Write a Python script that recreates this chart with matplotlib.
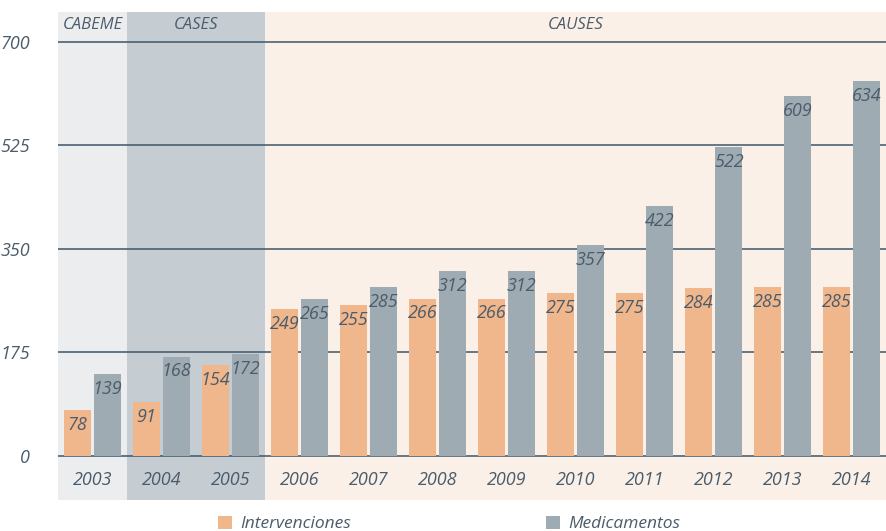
import matplotlib
matplotlib.use("Agg")
import matplotlib.pyplot as plt
import numpy as np

years = ["2003", "2004", "2005", "2006", "2007", "2008", "2009", "2010", "2011", "2012", "2013", "2014"]
intervenciones = [78, 91, 154, 249, 255, 266, 266, 275, 275, 284, 285, 285]
medicamentos = [139, 168, 172, 265, 285, 312, 312, 357, 422, 522, 609, 634]
yticks = [0, 175, 350, 525, 700]
periods = ["CABEME", "CASES", "CAUSES"]
period_spans = [(0, 0), (1, 2), (3, 11)]

plt.rcParams['font.family'] = ['Open Sans', 'DejaVu Sans']
TXT = '#4b5c6b'
C_INT = '#f0b68c'
C_MED = '#9fabb3'
BG = ['#ecedef', '#c5cdd3', '#faf0e8']

fig = plt.figure(figsize=(8.86, 5.31), dpi=100)
ax = fig.add_axes([58/886, 31/531, 828/886, 488/531])
ax.set_xlim(-0.5, 11.5)
ax.set_ylim(-74.4, 750.7)

for (a, b), col, name in zip(period_spans, BG, periods):
    ax.axvspan(a - 0.5, b + 0.5, color=col, zorder=0, lw=0)
    ax.text((a + b) / 2, 729, name, ha='center', va='center', fontsize=12,
            style='italic', color=TXT)

for t in yticks:
    ax.axhline(t, color='#3e5568', lw=1.1, zorder=1)

x = np.arange(len(years))
w = 0.40
b1 = ax.bar(x - 0.22, intervenciones, w, color=C_INT, zorder=2, label='Intervenciones')
b2 = ax.bar(x + 0.22, medicamentos, w, color=C_MED, zorder=2, label='Medicamentos')

for xi, v in zip(x - 0.22, intervenciones):
    ax.text(xi, v - 25, str(v), ha='center', va='center', fontsize=13,
            style='italic', color=TXT, zorder=3)
for xi, v in zip(x + 0.22, medicamentos):
    ax.text(xi, v - 25, str(v), ha='center', va='center', fontsize=13,
            style='italic', color=TXT, zorder=3)

for xi, y in zip(x, years):
    ax.text(xi, -41, y, ha='center', va='center', fontsize=13, style='italic', color=TXT)

ax.set_xticks([])
ax.set_yticks(yticks)
ax.set_yticklabels([str(t) for t in yticks], fontsize=13, style='italic', color=TXT)
ax.tick_params(axis='y', length=0, pad=20)
for s in ax.spines.values():
    s.set_visible(False)

fig.legend(handles=[b1, b2], loc='center', bbox_to_anchor=(0.507, 0.013), ncol=2,
           frameon=False, prop={'style': 'italic', 'size': 12.5},
           handlelength=0.8, handleheight=0.8, handletextpad=0.5, columnspacing=11.2,
           labelcolor=TXT, borderaxespad=0, borderpad=0)

fig.savefig('out.png', dpi=100)
